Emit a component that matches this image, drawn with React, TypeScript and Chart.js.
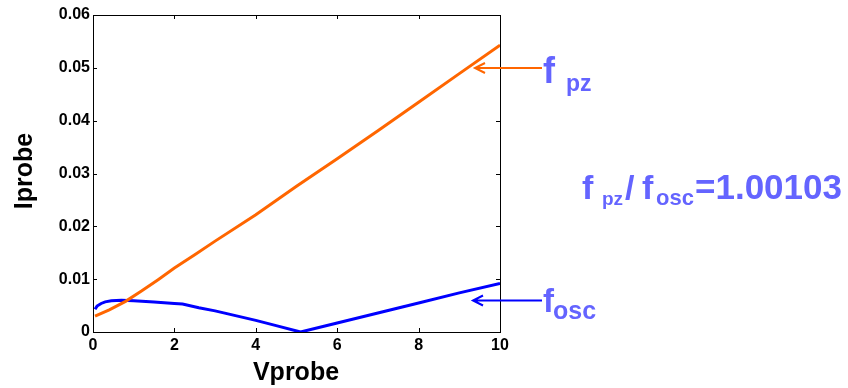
import React, { useEffect, useRef } from "react";
import { Chart, registerables } from "chart.js";

Chart.register(...registerables);

// Probe voltage (V) / probe current (A) for the two frequency cases
const pzVoltage = [0.05, 0.4, 0.8, 1.2, 1.6, 2, 2.5, 3, 4, 5, 6, 7, 8, 9, 10];
const pzCurrent = [0.003, 0.0042, 0.0058, 0.0078, 0.0099, 0.0121, 0.0146, 0.0172, 0.0222, 0.0276, 0.0328, 0.0381, 0.0435, 0.0489, 0.0543];

const oscVoltage = [0.05, 0.1, 0.2, 0.3, 0.45, 0.7, 1, 1.5, 2, 2.2, 2.6, 3, 3.5, 4, 4.5, 5.1, 6, 7, 8, 9, 10];
const oscCurrent = [0.0043, 0.0049, 0.0054, 0.0057, 0.0059, 0.006, 0.0059, 0.0057, 0.0054, 0.0053, 0.0046, 0.004, 0.0031, 0.0022, 0.0012, 0.0, 0.0017, 0.0036, 0.0055, 0.0074, 0.0092];

const xTicks = [0, 2, 4, 6, 8, 10];
const yTicks = [0, 0.01, 0.02, 0.03, 0.04, 0.05, 0.06];

const ratioText = "=1.00103";

const ORANGE = "#ff6600";
const BLUE = "#0000ff";
const NOTE = "#6464ff";
const FONT = '"Liberation Sans", Arial, sans-serif';

const toPoints = (xs: number[], ys: number[]) => xs.map((x, i) => ({ x, y: ys[i] }));

const framePlugin = {
  id: "frame",
  afterDatasetsDraw(chart: any) {
    const { ctx, chartArea } = chart;
    const { left, right, top, bottom } = chartArea;
    const xs = chart.scales.x;
    const ys = chart.scales.y;
    ctx.save();
    ctx.strokeStyle = "#000";
    ctx.lineWidth = 1;
    ctx.strokeRect(Math.round(left) + 0.5, Math.round(top) + 0.5, Math.round(right - left), Math.round(bottom - top));
    ctx.beginPath();
    for (const v of xTicks) {
      const px = Math.round(xs.getPixelForValue(v)) + 0.5;
      ctx.moveTo(px, bottom);
      ctx.lineTo(px, bottom - 4);
      ctx.moveTo(px, top);
      ctx.lineTo(px, top + 4);
    }
    for (const v of yTicks) {
      const py = Math.round(ys.getPixelForValue(v)) + 0.5;
      ctx.moveTo(left, py);
      ctx.lineTo(left + 4, py);
      ctx.moveTo(right, py);
      ctx.lineTo(right - 4, py);
    }
    ctx.stroke();
    ctx.restore();
  },
  afterDraw(chart: any) {
    const { ctx } = chart;
    ctx.save();
    // axis titles
    ctx.fillStyle = "#000";
    ctx.font = `bold 25px ${FONT}`;
    ctx.textAlign = "center";
    ctx.textBaseline = "alphabetic";
    ctx.fillText("Vprobe", 296, 380);
    ctx.save();
    ctx.translate(32, 171);
    ctx.rotate(-Math.PI / 2);
    ctx.fillText("Iprobe", 0, 0);
    ctx.restore();

    // arrows pointing at the curves
    const arrow = (x0: number, x1: number, y: number, color: string) => {
      ctx.strokeStyle = color;
      ctx.lineWidth = 2;
      ctx.beginPath();
      ctx.moveTo(x0, y);
      ctx.lineTo(x1, y);
      ctx.moveTo(x1 + 10, y - 5);
      ctx.lineTo(x1, y);
      ctx.lineTo(x1 + 10, y + 5);
      ctx.stroke();
    };
    arrow(542, 475, 68, ORANGE);
    arrow(542, 473, 300.5, BLUE);

    // curve labels
    ctx.fillStyle = NOTE;
    ctx.textAlign = "left";
    ctx.font = `bold 36px ${FONT}`;
    ctx.fillText("f", 543, 83);
    ctx.font = `bold 23px ${FONT}`;
    ctx.fillText("pz", 566, 91);

    ctx.font = `bold 33px ${FONT}`;
    ctx.fillText("f", 543, 312);
    ctx.font = `bold 25px ${FONT}`;
    ctx.fillText("osc", 553, 319);

    // frequency ratio
    ctx.font = `bold 34px ${FONT}`;
    ctx.fillText("f", 582, 199);
    ctx.font = `bold 19px ${FONT}`;
    ctx.fillText("pz", 602, 205);
    ctx.font = `bold 34px ${FONT}`;
    ctx.fillText("/", 625, 199);
    ctx.fillText("f", 642, 199);
    ctx.font = `bold 22px ${FONT}`;
    ctx.fillText("osc", 656, 205);
    ctx.font = `bold 35px ${FONT}`;
    ctx.fillText(ratioText, 695, 199);
    ctx.restore();
  },
};

export default function App() {
  const ref = useRef<HTMLCanvasElement | null>(null);

  useEffect(() => {
    if (!ref.current) return;
    const chart = new Chart(ref.current, {
      type: "scatter",
      data: {
        datasets: [
          {
            label: "f_pz",
            data: toPoints(pzVoltage, pzCurrent),
            showLine: true,
            borderColor: ORANGE,
            borderWidth: 3,
            pointRadius: 0,
            tension: 0,
          },
          {
            label: "f_osc",
            data: toPoints(oscVoltage, oscCurrent),
            showLine: true,
            borderColor: BLUE,
            borderWidth: 3,
            pointRadius: 0,
            tension: 0,
          },
        ],
      },
      options: {
        responsive: false,
        animation: false,
        layout: { padding: { left: 0, top: 15, right: 348, bottom: 0 } },
        plugins: { legend: { display: false }, tooltip: { enabled: false } },
        scales: {
          x: {
            type: "linear",
            min: 0,
            max: 10,
            grid: { display: false, drawTicks: false },
            border: { display: false },
            afterBuildTicks: (s: any) => {
              s.ticks = xTicks.map((v) => ({ value: v }));
            },
            afterFit: (s: any) => {
              s.height = 56;
            },
            ticks: {
              padding: 4,
              color: "#000",
              font: { family: FONT, size: 16, weight: "bold" },
              maxRotation: 0,
              callback: (v: any) => String(v),
            },
          },
          y: {
            type: "linear",
            min: 0,
            max: 0.06,
            grid: { display: false, drawTicks: false },
            border: { display: false },
            afterBuildTicks: (s: any) => {
              s.ticks = yTicks.map((v) => ({ value: v }));
            },
            afterFit: (s: any) => {
              s.width = 93;
            },
            ticks: {
              padding: 3,
              color: "#000",
              font: { family: FONT, size: 16, weight: "bold" },
              callback: (v: any) => (Number(v) === 0 ? "0" : Number(v).toFixed(2)),
            },
          },
        },
      },
      plugins: [framePlugin],
    });
    return () => chart.destroy();
  }, []);

  return (
    <div style={{ position: "absolute", left: 0, top: 0, width: 848, height: 388, background: "#fff" }}>
      <canvas ref={ref} width={848} height={388} />
    </div>
  );
}
